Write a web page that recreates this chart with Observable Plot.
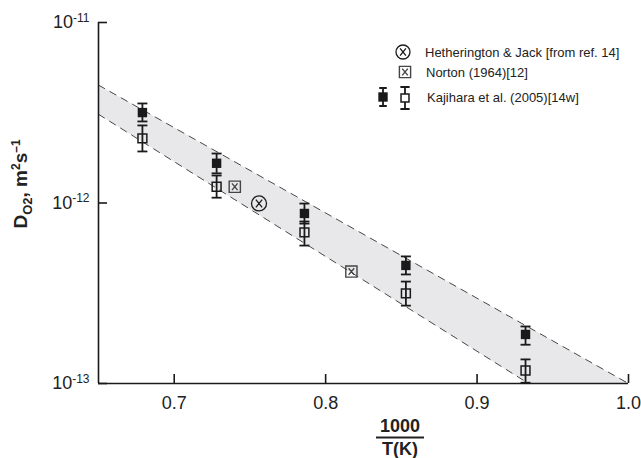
<!DOCTYPE html>
<html><head><meta charset="utf-8">
<script src="https://cdn.jsdelivr.net/npm/d3@7"></script>
<script src="https://cdn.jsdelivr.net/npm/@observablehq/plot@0.6"></script>
<style>
body{margin:0;background:#fff;}
#chart svg{font-family:"Liberation Sans",Arial,Helvetica,sans-serif;}
</style></head><body><div id="chart"></div>
<script>
// ---- data ----
const invT = [0.679, 0.728, 0.786, 0.853, 0.932];            // 1000/T(K), Kajihara et al.
const kajFilled   = [3.17e-12, 1.66e-12, 8.75e-13, 4.51e-13, 1.87e-13];
const kajFilledLo = [2.83e-12, 1.46e-12, 7.69e-13, 4.02e-13, 1.64e-13];
const kajFilledHi = [3.56e-12, 1.88e-12, 9.93e-13, 5.06e-13, 2.07e-13];
const kajOpen     = [2.28e-12, 1.23e-12, 6.87e-13, 3.16e-13, 1.18e-13];
const kajOpenLo   = [1.93e-12, 1.07e-12, 5.81e-13, 2.70e-13, 1.01e-13];
const kajOpenHi   = [2.69e-12, 1.42e-12, 7.90e-13, 3.67e-13, 1.36e-13];
const nortonX = [0.740, 0.817];
const nortonY = [1.23e-12, 4.17e-13];
const hethX = [0.756];
const hethY = [9.94e-13];
const upperX = [0.65, 1.0];
const upperY = [4.5e-12, 1e-13];
const lowerX = [0.65, 0.934];
const lowerY = [3.1e-12, 1e-13];
const xTicks = [0.7, 0.8, 0.9, 1.0];
const yTicks = [1e-13, 1e-12, 1e-11];
const legendLabels = ["Hetherington & Jack [from ref. 14]", "Norton (1964)[12]", "Kajihara et al. (2005)[14w]"];

// ---- tables ----
const kaj = invT.map((x, i) => ({x, f: kajFilled[i], fLo: kajFilledLo[i], fHi: kajFilledHi[i],
  o: kajOpen[i], oLo: kajOpenLo[i], oHi: kajOpenHi[i]}));
const norton = nortonX.map((x, i) => ({x, y: nortonY[i]}));
const heth = hethX.map((x, i) => ({x, y: hethY[i]}));
const upper = upperX.map((x, i) => ({x, y: upperY[i]}));
const lower = lowerX.map((x, i) => ({x, y: lowerY[i]}));
const band = [...upper, ...lower.slice().reverse()];

// ---- custom symbols ----
const rOf = size => Math.sqrt(size / Math.PI);
const capSym = {draw(c, s){ const r = rOf(s); c.moveTo(-r, 0); c.lineTo(r, 0); }};
const circleX = {draw(c, s){ const r = rOf(s); c.moveTo(r, 0); c.arc(0, 0, r, 0, 2*Math.PI);
  const a = r*0.42; c.moveTo(-a, -a*1.25); c.lineTo(a, a*1.25); c.moveTo(a, -a*1.25); c.lineTo(-a, a*1.25); }};
const boxX = {draw(c, s){ const h = rOf(s)*0.8; c.moveTo(-h, -h); c.lineTo(h, -h); c.lineTo(h, h); c.lineTo(-h, h); c.closePath();
  const a = h*0.5; c.moveTo(-a, -a*1.2); c.lineTo(a, a*1.2); c.moveTo(a, -a*1.2); c.lineTo(-a, a*1.2); }};
const errSym = {draw(c, s){ const h = rOf(s); const w = h*0.42; c.moveTo(0, -h); c.lineTo(0, h);
  c.moveTo(-w, -h); c.lineTo(w, -h); c.moveTo(-w, h); c.lineTo(w, h); }};

const W = 641, H = 458, mL = 98, mR = 13, mT = 22, mB = 75;
const fw = W - mL - mR, fh = H - mT - mB;
const ink = "#1a1a1a";

const chart = Plot.plot({
  width: W, height: H,
  marginLeft: mL, marginRight: mR, marginTop: mT, marginBottom: mB,
  style: {fontFamily: '"Liberation Sans", Arial, sans-serif', fontSize: "18px", color: "#222", background: "#fff"},
  x: {domain: [0.65, 1.0]},
  y: {type: "log", domain: [1e-13, 1e-11]},
  marks: [
    Plot.line(band, {x: "x", y: "y", fill: "#e8e8ea", stroke: "none"}),
    Plot.line(upper, {x: "x", y: "y", stroke: "#333", strokeWidth: 0.9, strokeDasharray: "7,6"}),
    Plot.line(lower, {x: "x", y: "y", stroke: "#333", strokeWidth: 0.9, strokeDasharray: "7,6"}),
    Plot.ruleX([0.65], {stroke: ink, strokeWidth: 1.6}),
    Plot.ruleY([1e-13], {stroke: ink, strokeWidth: 1.6}),
    Plot.tickX(xTicks, {x: d => d, insetTop: fh - 9, stroke: ink, strokeWidth: 1.6}),
    Plot.tickY(yTicks, {y: d => d, insetRight: fw - 9, stroke: ink, strokeWidth: 1.6}),
    Plot.axisX(xTicks, {tickSize: 0, tickPadding: 13, tickFormat: d3.format(".1f"), label: null, fontSize: 18}),
    Plot.axisY(yTicks, {tickSize: 0, tickPadding: 9, tickFormat: d => "10^" + Math.round(Math.log10(d)), label: null, fontSize: 18}),
    // error bars
    Plot.ruleX(kaj, {x: "x", y1: "fLo", y2: "fHi", stroke: ink, strokeWidth: 1.8}),
    Plot.ruleX(kaj, {x: "x", y1: "oLo", y2: "oHi", stroke: ink, strokeWidth: 1.8}),
    Plot.dot(kaj, {x: "x", y: "fLo", symbol: capSym, r: 5, stroke: ink, strokeWidth: 1.8, fill: "none"}),
    Plot.dot(kaj, {x: "x", y: "fHi", symbol: capSym, r: 5, stroke: ink, strokeWidth: 1.8, fill: "none"}),
    Plot.dot(kaj, {x: "x", y: "oLo", symbol: capSym, r: 5, stroke: ink, strokeWidth: 1.8, fill: "none"}),
    Plot.dot(kaj, {x: "x", y: "oHi", symbol: capSym, r: 5, stroke: ink, strokeWidth: 1.8, fill: "none"}),
    // markers
    Plot.dot(kaj, {x: "x", y: "f", symbol: "square", r: 5.3, fill: ink, stroke: "none"}),
    Plot.dot(kaj, {x: "x", y: "o", symbol: "square", r: 5, fill: "none", stroke: ink, strokeWidth: 1.5}),
    Plot.dot(norton, {x: "x", y: "y", symbol: boxX, r: 7, fill: "none", stroke: "#444", strokeWidth: 1.4}),
    Plot.dot(heth, {x: "x", y: "y", symbol: circleX, r: 7.5, fill: "none", stroke: ink, strokeWidth: 1.3})
  ]
});
document.getElementById("chart").appendChild(chart);

const svg = d3.select(chart);
// superscript exponents on y tick labels
svg.selectAll('g[aria-label="y-axis tick label"] text').each(function(){
  const t = d3.select(this); const s = t.text(); const [b, e] = s.split("^");
  t.text(null);
  t.append("tspan").text(b);
  t.append("tspan").attr("font-size", 12).attr("dy", "-0.55em").text(e);
});

// y-axis title
const yt = svg.append("text").attr("transform", "translate(27,184) rotate(-90)")
  .attr("text-anchor", "middle").attr("font-weight", "bold").attr("font-size", 19).attr("fill", "#222");
yt.append("tspan").text("D");
yt.append("tspan").attr("font-size", 13).attr("dy", 5).text("O2");
yt.append("tspan").attr("dy", -5).text(", m");
yt.append("tspan").attr("font-size", 12).attr("dy", -7).text("2");
yt.append("tspan").attr("dy", 7).text("s");
yt.append("tspan").attr("font-size", 12).attr("dy", -7).text("\u20131");

// x-axis title as fraction
const xc = 400;
svg.append("text").attr("x", xc).attr("y", 432).attr("text-anchor", "middle")
  .attr("font-weight", "bold").attr("font-size", 18).attr("fill", "#222").text("1000");
svg.append("line").attr("x1", xc - 24).attr("x2", xc + 24).attr("y1", 437.5).attr("y2", 437.5)
  .attr("stroke", "#222").attr("stroke-width", 2);
svg.append("text").attr("x", xc).attr("y", 455).attr("text-anchor", "middle")
  .attr("font-weight", "bold").attr("font-size", 18).attr("fill", "#222").text("T(K)");

// legend
const lg = svg.append("g").attr("fill", "#222").attr("font-size", 13).attr("text-anchor", "start");
const sym = (type, r) => d3.symbol(type, r*r*Math.PI)();
const put = (x, y, type, r, attrs) => { const p = lg.append("path").attr("transform", `translate(${x},${y})`).attr("d", sym(type, r));
  for (const k in attrs) p.attr(k, attrs[k]); };
put(403, 52, circleX, 7, {fill: "none", stroke: ink, "stroke-width": 1.3});
put(405, 72, boxX, 7, {fill: "none", stroke: "#444", "stroke-width": 1.4});
put(383, 97, errSym, 9, {fill: "none", stroke: ink, "stroke-width": 1.8});
put(383, 97, d3.symbolSquare, 5.3, {fill: ink, stroke: "none"});
put(405, 98, errSym, 11, {fill: "none", stroke: ink, "stroke-width": 1.8});
put(405, 98, d3.symbolSquare, 4.5, {fill: "#fff", stroke: ink, "stroke-width": 1.5});
[[425, 52], [426, 72], [427, 97]].forEach(([x, y], i) =>
  lg.append("text").attr("x", x).attr("y", y).attr("dy", "0.35em").attr("text-anchor", "start").text(legendLabels[i]));
</script></body></html>
